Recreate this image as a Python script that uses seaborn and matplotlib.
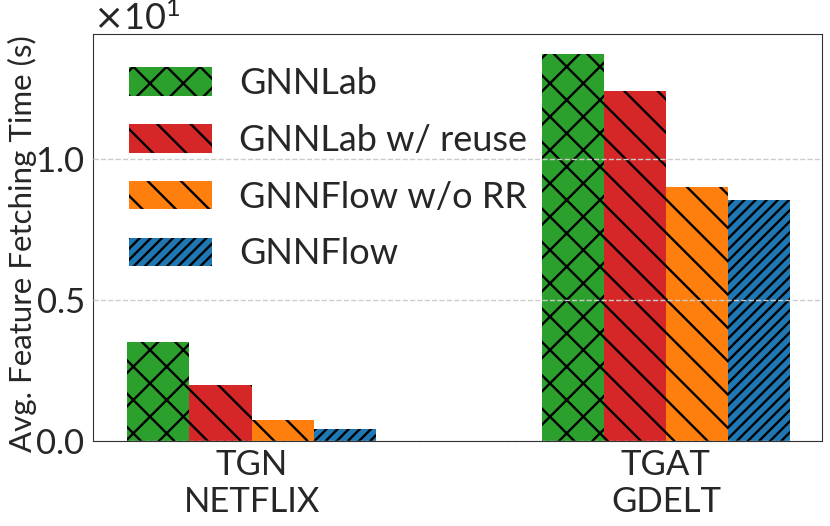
import matplotlib
matplotlib.use("Agg")
import matplotlib.pyplot as plt
import numpy as np
import pandas as pd
import seaborn as sns

# data (seconds)
groups = ["TGN\nNETFLIX", "TGAT\nGDELT"]
methods = ["GNNLab", "GNNLab w/ reuse", "GNNFlow w/o RR", "GNNFlow"]
tgn_netflix = [3.52, 1.99, 0.75, 0.43]
tgat_gdelt = [13.76, 12.42, 9.02, 8.56]

colors = ["#2ca02c", "#d62728", "#ff7f0e", "#1f77b4"]
hatches = ["x", "\\", "\\", "///"]

df = pd.DataFrame({
    "group": [groups[0]] * 4 + [groups[1]] * 4,
    "method": methods * 2,
    "time": tgn_netflix + tgat_gdelt,
})

sns.set_style("white")
plt.rcParams["font.family"] = ["Lato", "DejaVu Sans"]
plt.rcParams["hatch.linewidth"] = 1.7
plt.rcParams["hatch.color"] = "black"

fig, ax = plt.subplots(figsize=(8.3, 5.26), dpi=100)
fig.subplots_adjust(left=0.112, right=0.990, top=0.935, bottom=0.162)

sns.barplot(data=df, x="group", y="time", hue="method", hue_order=methods,
            palette=colors, width=0.6, gap=0, ax=ax, edgecolor="black",
            linewidth=0, saturation=1, errorbar=None, legend=False)

for cont, h in zip(ax.containers, hatches):
    for bar in cont:
        bar.set_hatch(h)

ax.set_xlim(-0.383, 1.376)
ax.ticklabel_format(axis="y", style="sci", scilimits=(0, 0), useMathText=True)
ax.yaxis.get_offset_text().set_fontsize(26)
ax.set_yticks([0, 5, 10])
ax.tick_params(axis="both", labelsize=25, length=4, color="#333333", pad=2)
ax.set_xlabel("")
ax.set_ylabel("Avg. Feature Fetching Time (s)", fontsize=22.5)
ax.yaxis.set_label_coords(-0.077, 0.486)
ax.yaxis.grid(True, linestyle="--", color="#cccccc", linewidth=1)
ax.set_axisbelow(False)
for s in ax.spines.values():
    s.set_color("#333333")

handles = [cont.patches[0] for cont in ax.containers]
ax.legend(handles, methods, loc="upper left", fontsize=26, frameon=False,
          handlelength=2.3, handleheight=0.85, labelspacing=0.66,
          handletextpad=0.75, borderaxespad=0.0,
          bbox_to_anchor=(0.03, 0.955))

plt.savefig("out.png", dpi=100)
